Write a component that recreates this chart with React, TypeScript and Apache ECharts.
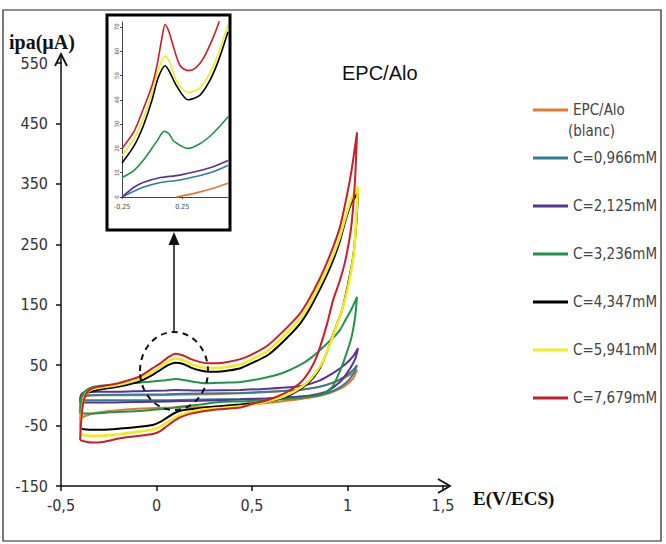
import React, { useEffect, useRef } from "react";
import * as echarts from "echarts";

// Cyclic voltammograms: [E (V/ECS), i (µA)], forward scan then return scan
const seriesNames = ["EPC/Alo", "C=0,966mM", "C=2,125mM", "C=3,236mM", "C=4,347mM", "C=5,941mM", "C=7,679mM"];
const seriesColors = ["#E07A2E", "#2F7F98", "#5A3296", "#1F9448", "#000000", "#F0EC1E", "#C81F2A"];

const blanc: number[][] = [
  [-0.4, -40], [-0.39, -10], [-0.37, -2], [-0.3, 0], [-0.1, 0], [0.1, 1], [0.3, 2], [0.5, 4], [0.7, 8], [0.85, 14], [0.95, 24], [1.02, 35], [1.05, 42],
  [1.03, 28], [0.98, 14], [0.9, 3], [0.8, -4], [0.65, -10], [0.5, -15], [0.4, -18], [0.3, -19], [0.1, -20], [-0.1, -22], [-0.3, -28], [-0.38, -35], [-0.4, -40],
];
const c0966: number[][] = [
  [-0.4, -8], [-0.395, -3], [-0.37, 0], [-0.19, 1], [0.05, 2], [0.23, 3], [0.44, 4], [0.58, 6], [0.75, 9], [0.85, 14], [0.93, 22], [0.99, 32], [1.03, 42], [1.05, 50],
  [1.03, 35], [0.99, 20], [0.93, 8], [0.85, 0], [0.75, -3], [0.58, -5], [0.44, -6], [0.23, -7], [0.05, -8], [-0.19, -8], [-0.4, -8],
];
const c2125: number[][] = [
  [-0.4, -12], [-0.398, -2], [-0.39, 3], [-0.37, 5], [-0.31, 6], [-0.19, 6], [-0.09, 7], [0.05, 8], [0.1, 9], [0.23, 8], [0.44, 9], [0.58, 11], [0.75, 15], [0.85, 24], [0.93, 38], [0.99, 52], [1.03, 65], [1.055, 78],
  [1.04, 60], [1.0, 38], [0.96, 22], [0.9, 8], [0.84, 2], [0.75, -2], [0.58, -5], [0.44, -7], [0.23, -9], [0.05, -10], [-0.09, -11], [-0.28, -12], [-0.4, -12],
];
const c3236: number[][] = [
  [-0.4, -30], [-0.398, -10], [-0.39, 0], [-0.37, 8], [-0.34, 13], [-0.31, 15], [-0.25, 17], [-0.19, 19], [-0.09, 21], [-0.02, 23], [0.05, 25], [0.1, 27], [0.15, 25], [0.2, 22], [0.26, 20], [0.35, 21], [0.44, 22], [0.58, 30], [0.66, 37], [0.75, 50], [0.8, 60], [0.85, 73], [0.89, 85], [0.93, 97], [0.96, 108], [0.99, 125], [1.02, 142], [1.05, 163],
  [1.04, 130], [1.02, 95], [0.99, 65], [0.96, 40], [0.92, 14], [0.87, 2], [0.78, -3], [0.68, -6], [0.58, -8], [0.44, -10], [0.33, -11], [0.23, -15], [0.12, -19], [0.05, -22], [-0.02, -24], [-0.09, -26], [-0.19, -27], [-0.28, -29], [-0.36, -30], [-0.4, -30],
];
const c4347: number[][] = [
  [-0.4, -55], [-0.395, -35], [-0.385, -10], [-0.37, 2], [-0.35, 6], [-0.31, 9], [-0.25, 12], [-0.19, 15], [-0.09, 23], [-0.02, 34], [0.02, 42], [0.06, 50], [0.1, 54], [0.14, 52], [0.18, 46], [0.23, 41], [0.28, 39], [0.35, 40], [0.44, 45], [0.49, 52], [0.58, 66], [0.66, 88], [0.75, 118], [0.8, 142], [0.85, 172], [0.89, 198], [0.93, 228], [0.96, 255], [0.99, 290], [1.02, 318], [1.055, 335],
  [1.045, 280], [1.03, 230], [1.0, 180], [0.97, 140], [0.93, 105], [0.89, 70], [0.85, 42], [0.8, 22], [0.75, 10], [0.68, -2], [0.58, -10], [0.5, -13], [0.44, -15], [0.33, -18], [0.23, -21], [0.13, -25], [0.09, -30], [0.05, -38], [0.02, -44], [-0.02, -49], [-0.09, -52], [-0.19, -55], [-0.28, -57], [-0.34, -57], [-0.38, -56], [-0.4, -55],
];
const c5941: number[][] = [
  [-0.4, -65], [-0.395, -40], [-0.385, -12], [-0.37, 3], [-0.35, 8], [-0.31, 12], [-0.25, 15], [-0.19, 18], [-0.09, 27], [-0.02, 39], [0.02, 47], [0.06, 56], [0.1, 61], [0.14, 58], [0.18, 52], [0.23, 47], [0.28, 45], [0.35, 46], [0.44, 51], [0.49, 58], [0.58, 73], [0.66, 96], [0.75, 126], [0.8, 150], [0.85, 180], [0.89, 206], [0.93, 236], [0.96, 262], [0.99, 295], [1.02, 325], [1.055, 345],
  [1.045, 290], [1.035, 240], [1.01, 190], [0.98, 150], [0.94, 112], [0.9, 78], [0.86, 50], [0.81, 28], [0.76, 14], [0.68, 0], [0.58, -10], [0.5, -15], [0.44, -18], [0.33, -21], [0.23, -24], [0.17, -28], [0.12, -33], [0.08, -40], [0.05, -46], [0.02, -52], [-0.02, -57], [-0.09, -60], [-0.19, -64], [-0.28, -67], [-0.34, -67], [-0.38, -66], [-0.4, -65],
];
const c7679: number[][] = [
  [-0.4, -74], [-0.395, -45], [-0.385, -15], [-0.37, 2], [-0.35, 9], [-0.31, 14], [-0.25, 17], [-0.19, 21], [-0.09, 31], [-0.02, 45], [0.02, 53], [0.06, 63], [0.1, 69], [0.14, 66], [0.18, 60], [0.23, 55], [0.28, 53], [0.35, 54], [0.44, 60], [0.49, 66], [0.58, 82], [0.66, 105], [0.75, 135], [0.8, 160], [0.85, 190], [0.89, 218], [0.93, 250], [0.96, 278], [0.99, 320], [1.02, 370], [1.05, 435],
  [1.04, 360], [1.02, 280], [0.99, 225], [0.96, 190], [0.925, 158], [0.89, 115], [0.84, 65], [0.8, 40], [0.75, 20], [0.68, 5], [0.58, -8], [0.5, -14], [0.44, -20], [0.33, -23], [0.23, -27], [0.17, -31], [0.12, -37], [0.08, -45], [0.05, -52], [0.02, -59], [-0.02, -64], [-0.09, -67], [-0.19, -71], [-0.28, -77], [-0.34, -78], [-0.38, -76], [-0.4, -74],
];

// Magnified inset (forward scan near the oxidation peak)
const insetBlanc: number[][] = [[0.2, 0], [0.35, 1.5], [0.5, 3.5], [0.63, 5.7]];
const inset0966: number[][] = [[-0.25, 0], [-0.075, 4], [0.07, 6], [0.23, 7], [0.48, 10], [0.63, 13]];
const inset2125: number[][] = [[-0.25, 0], [-0.15, 4], [-0.075, 6], [0.07, 8], [0.23, 9], [0.48, 12], [0.63, 15]];
const inset3236: number[][] = [[-0.25, 8], [-0.15, 11], [-0.075, 15], [0.04, 23], [0.1, 27], [0.14, 26], [0.18, 23], [0.3, 20], [0.4, 22], [0.48, 25], [0.56, 29], [0.63, 33]];
const inset4347: number[][] = [[-0.25, 14], [-0.15, 21], [-0.075, 29], [0.0, 40], [0.05, 49], [0.108, 54], [0.15, 51], [0.2, 46], [0.3, 40], [0.4, 42], [0.48, 48], [0.55, 56], [0.63, 68]];
const inset5941: number[][] = [[-0.25, 17], [-0.15, 24], [-0.075, 32], [0.0, 43], [0.05, 52], [0.108, 58], [0.15, 55], [0.2, 48], [0.3, 43], [0.4, 45], [0.48, 51], [0.55, 59], [0.63, 71]];
const inset7679: number[][] = [[-0.25, 20], [-0.15, 27], [-0.075, 36], [0.0, 46], [0.04, 54], [0.08, 65], [0.108, 71], [0.14, 68], [0.17, 63], [0.233, 54], [0.3, 52], [0.36, 53], [0.425, 57], [0.51, 66], [0.57, 74]];

const mainData = [blanc, c0966, c2125, c3236, c4347, c5941, c7679];
const insetData = [insetBlanc, inset0966, inset2125, inset3236, inset4347, inset5941, inset7679];

const NARROW = "'DejaVu Sans Condensed', 'Liberation Sans Narrow', sans-serif";
const SERIF = "'Liberation Serif', 'DejaVu Serif', serif";
const SANS = "'Liberation Sans', Arial, sans-serif";
const comma = (v: number) => String(v).replace(".", ",");

export default function App() {
  const ref = useRef<HTMLDivElement>(null);
  useEffect(() => {
    if (!ref.current) return;
    const chart = echarts.init(ref.current, null, { renderer: "svg" });
    const series: any[] = [];
    mainData.forEach((d, i) => {
      series.push({
        type: "line", name: seriesNames[i], data: d, xAxisIndex: 0, yAxisIndex: 0,
        symbol: "none", showSymbol: false, smooth: 0.2, z: 2 + i,
        lineStyle: { color: seriesColors[i], width: i === 5 ? 2.6 : 2 }, itemStyle: { color: seriesColors[i] },
      });
    });
    insetData.forEach((d, i) => {
      series.push({
        type: "line", name: seriesNames[i], data: d, xAxisIndex: 1, yAxisIndex: 1,
        symbol: "none", showSymbol: false, smooth: 0.3, z: 2 + i,
        lineStyle: { color: seriesColors[i], width: 1.6 }, itemStyle: { color: seriesColors[i] },
      });
    });
    chart.setOption({
      animation: false,
      backgroundColor: "#ffffff",
      grid: [
        { left: 61, top: 63, width: 382, height: 423 },
        { left: 122, top: 22, width: 106, height: 175 },
      ],
      xAxis: [
        {
          type: "value", gridIndex: 0, min: -0.5, max: 1.5, interval: 0.5,
          axisLine: { show: true, onZero: false, lineStyle: { color: "#111", width: 1.5 } },
          axisTick: { show: true, length: 5, lineStyle: { color: "#111", width: 1.5 } },
          axisLabel: { fontFamily: NARROW, fontSize: 16, color: "#333", margin: 11, formatter: comma },
          splitLine: { show: false },
        },
        {
          type: "value", gridIndex: 1, min: -0.25, max: 0.63, interval: 0.5,
          axisLine: { show: true, onZero: false, lineStyle: { color: "#444", width: 1 } },
          axisTick: { show: true, length: 2, lineStyle: { color: "#444" } },
          axisLabel: { fontFamily: NARROW, fontSize: 7, color: "#444", margin: 6, showMaxLabel: false, formatter: comma },
          splitLine: { show: false },
        },
      ],
      yAxis: [
        {
          type: "value", gridIndex: 0, min: -150, max: 550, interval: 100,
          axisLine: { show: true, onZero: false, lineStyle: { color: "#111", width: 1.5 } },
          axisTick: { show: true, length: 5, lineStyle: { color: "#111", width: 1.5 } },
          axisLabel: { fontFamily: NARROW, fontSize: 16, color: "#333", margin: 13 },
          splitLine: { show: false },
        },
        {
          type: "value", gridIndex: 1, min: 0, max: 72, interval: 10,
          axisLine: { show: true, onZero: false, lineStyle: { color: "#444", width: 1 } },
          axisTick: { show: true, length: 2, lineStyle: { color: "#444" } },
          axisLabel: { fontFamily: NARROW, fontSize: 6, color: "#555", margin: 3, rotate: 90, showMaxLabel: false },
          splitLine: { show: false },
        },
      ],
      legend: {
        data: seriesNames, orient: "vertical", left: 528, top: 95,
        icon: "rect", itemWidth: 35, itemHeight: 3, itemGap: 28, selectedMode: false,
        textStyle: { fontFamily: NARROW, fontSize: 15, lineHeight: 20, color: "#444" },
      },
      graphic: [
        { type: "rect", z: 0, shape: { x: 3, y: 10, width: 658, height: 531 }, style: { fill: "none", stroke: "#222", lineWidth: 1.2 } },
        { type: "line", z: 5, shape: { x1: 61, y1: 64, x2: 61, y2: 54 }, style: { stroke: "#111", lineWidth: 1.5 } },
        { type: "polyline", z: 5, shape: { points: [[55, 66], [61, 54], [67, 66]] }, style: { stroke: "#111", lineWidth: 1.8, fill: "none" } },
        { type: "line", z: 5, shape: { x1: 442, y1: 486, x2: 450, y2: 486 }, style: { stroke: "#111", lineWidth: 1.5 } },
        { type: "polyline", z: 5, shape: { points: [[438, 479], [450, 486], [438, 493]] }, style: { stroke: "#111", lineWidth: 1.8, fill: "none" } },
        { type: "text", z: 5, x: 9, y: 42, style: { text: "ipa(µA)", fontFamily: SERIF, fontSize: 20, fontWeight: "bold", fill: "#111", textVerticalAlign: "middle" } },
        { type: "text", z: 5, x: 473, y: 498, style: { text: "E(V/ECS)", fontFamily: SERIF, fontSize: 19, fontWeight: "bold", fill: "#111", textVerticalAlign: "middle" } },
        { type: "text", z: 5, x: 342, y: 73, style: { text: "EPC/Alo", fontFamily: SANS, fontSize: 20, fill: "#111", textVerticalAlign: "middle" } },
        { type: "text", z: 5, x: 568, y: 131, style: { text: "(blanc)", fontFamily: NARROW, fontSize: 15, fill: "#444", textVerticalAlign: "middle" } },
        { type: "rect", z: 8, shape: { x: 107, y: 15, width: 123, height: 215 }, style: { fill: "none", stroke: "#000", lineWidth: 3 } },
        { type: "line", z: 8, shape: { x1: 174, y1: 332, x2: 174, y2: 244 }, style: { stroke: "#111", lineWidth: 1.5 } },
        { type: "polygon", z: 8, shape: { points: [[174, 232], [168.5, 245], [179.5, 245]] }, style: { fill: "#111" } },
        { type: "ellipse", z: 20, shape: { cx: 174, cy: 371, rx: 34, ry: 39 }, style: { fill: "none", stroke: "#111", lineWidth: 2, lineDash: [6, 5] } },
      ],
      series,
    });
    return () => chart.dispose();
  }, []);
  return <div ref={ref} style={{ position: "fixed", left: 0, top: 0, width: 666, height: 544 }} />;
}
